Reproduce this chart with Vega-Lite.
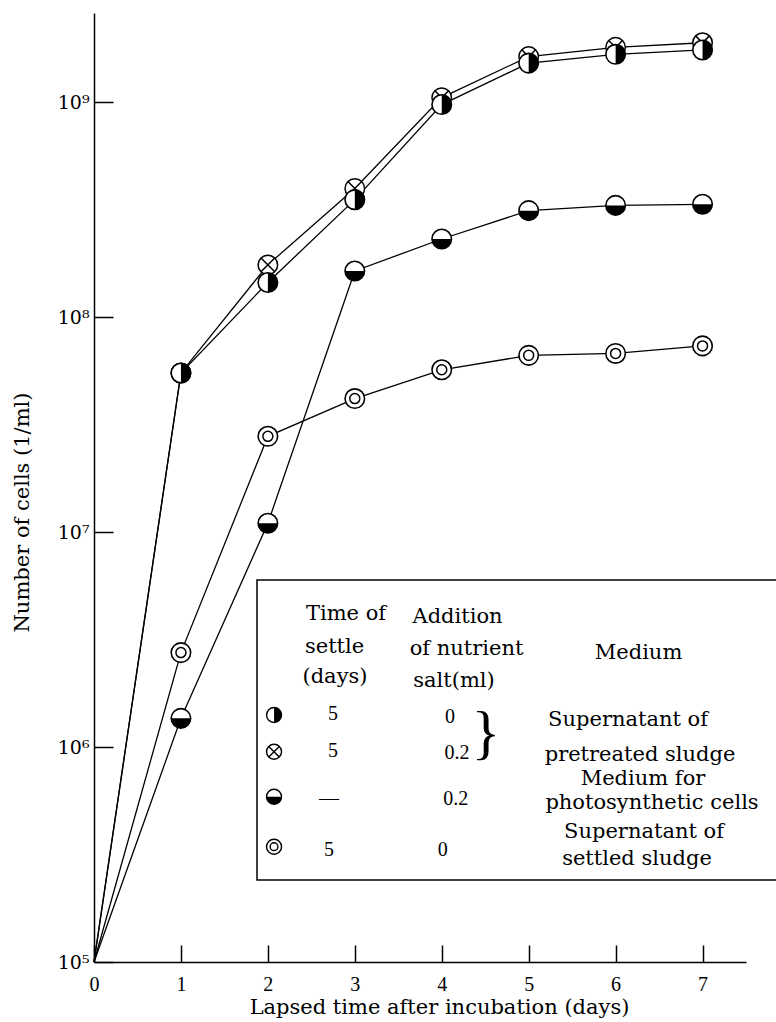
{
  "$schema": "https://vega.github.io/schema/vega-lite/v6.json",
  "width": 652,
  "height": 949,
  "autosize": {"type": "none"},
  "padding": {"left": 94, "top": 13, "right": 30, "bottom": 60},
  "background": "white",
  "config": {"view": {"stroke": null}, "font": "DejaVu Serif"},
  "datasets": {
    "pts": [
      {"series": "Settle 5 d, salt 0 ml (pretreated sludge)", "day": 0, "cells": 100000},
      {"series": "Settle 5 d, salt 0 ml (pretreated sludge)", "day": 1, "cells": 55000000},
      {"series": "Settle 5 d, salt 0 ml (pretreated sludge)", "day": 2, "cells": 145000000},
      {"series": "Settle 5 d, salt 0 ml (pretreated sludge)", "day": 3, "cells": 352000000},
      {"series": "Settle 5 d, salt 0 ml (pretreated sludge)", "day": 4, "cells": 975000000},
      {"series": "Settle 5 d, salt 0 ml (pretreated sludge)", "day": 5, "cells": 1520000000},
      {"series": "Settle 5 d, salt 0 ml (pretreated sludge)", "day": 6, "cells": 1670000000},
      {"series": "Settle 5 d, salt 0 ml (pretreated sludge)", "day": 7, "cells": 1750000000},
      {"series": "Settle 5 d, salt 0.2 ml (pretreated sludge)", "day": 0, "cells": 100000},
      {"series": "Settle 5 d, salt 0.2 ml (pretreated sludge)", "day": 1, "cells": 55000000},
      {"series": "Settle 5 d, salt 0.2 ml (pretreated sludge)", "day": 2, "cells": 175000000},
      {"series": "Settle 5 d, salt 0.2 ml (pretreated sludge)", "day": 3, "cells": 397000000},
      {"series": "Settle 5 d, salt 0.2 ml (pretreated sludge)", "day": 4, "cells": 1050000000},
      {"series": "Settle 5 d, salt 0.2 ml (pretreated sludge)", "day": 5, "cells": 1630000000},
      {"series": "Settle 5 d, salt 0.2 ml (pretreated sludge)", "day": 6, "cells": 1800000000},
      {"series": "Settle 5 d, salt 0.2 ml (pretreated sludge)", "day": 7, "cells": 1890000000},
      {"series": "Salt 0.2 ml (photosynthetic medium)", "day": 0, "cells": 100000},
      {"series": "Salt 0.2 ml (photosynthetic medium)", "day": 1, "cells": 1360000},
      {"series": "Salt 0.2 ml (photosynthetic medium)", "day": 2, "cells": 11000000},
      {"series": "Salt 0.2 ml (photosynthetic medium)", "day": 3, "cells": 164000000},
      {"series": "Salt 0.2 ml (photosynthetic medium)", "day": 4, "cells": 231000000},
      {"series": "Salt 0.2 ml (photosynthetic medium)", "day": 5, "cells": 313000000},
      {"series": "Salt 0.2 ml (photosynthetic medium)", "day": 6, "cells": 331000000},
      {"series": "Salt 0.2 ml (photosynthetic medium)", "day": 7, "cells": 335000000},
      {"series": "Settle 5 d, salt 0 ml (settled sludge)", "day": 0, "cells": 100000},
      {"series": "Settle 5 d, salt 0 ml (settled sludge)", "day": 1, "cells": 2750000},
      {"series": "Settle 5 d, salt 0 ml (settled sludge)", "day": 2, "cells": 27900000},
      {"series": "Settle 5 d, salt 0 ml (settled sludge)", "day": 3, "cells": 41800000},
      {"series": "Settle 5 d, salt 0 ml (settled sludge)", "day": 4, "cells": 56900000},
      {"series": "Settle 5 d, salt 0 ml (settled sludge)", "day": 5, "cells": 66400000},
      {"series": "Settle 5 d, salt 0 ml (settled sludge)", "day": 6, "cells": 67800000},
      {"series": "Settle 5 d, salt 0 ml (settled sludge)", "day": 7, "cells": 73500000}
    ],
    "legsym": [
      {"series": "Settle 5 d, salt 0 ml (pretreated sludge)", "day": 2.071, "cells": 1410000},
      {"series": "Settle 5 d, salt 0.2 ml (pretreated sludge)", "day": 2.071, "cells": 951000},
      {"series": "Salt 0.2 ml (photosynthetic medium)", "day": 2.071, "cells": 587500},
      {"series": "Settle 5 d, salt 0 ml (settled sludge)", "day": 2.071, "cells": 343900}
    ],
    "box": [{"day": 1.875, "day2": 8.5, "cells": 5990000, "cells2": 240700}],
    "legtext": [
      {"text": "Time of", "day": 2.899, "cells": 3900000},
      {"text": "settle", "day": 2.767, "cells": 2748000},
      {"text": "(days)", "day": 2.772, "cells": 1986000},
      {"text": "Addition", "day": 4.182, "cells": 3789000},
      {"text": "of nutrient", "day": 4.285, "cells": 2681000},
      {"text": "salt(ml)", "day": 4.141, "cells": 1903000},
      {"text": "Medium", "day": 6.264, "cells": 2568000},
      {"text": "Supernatant of", "day": 6.143, "cells": 1253000},
      {"text": "pretreated sludge", "day": 6.281, "cells": 864000},
      {"text": "Medium for", "day": 6.315, "cells": 666000},
      {"text": "photosynthetic cells", "day": 6.419, "cells": 515000},
      {"text": "Supernatant of", "day": 6.327, "cells": 378700},
      {"text": "settled sludge", "day": 6.246, "cells": 282700}
    ],
    "legnum": [
      {"text": "5", "day": 2.749, "cells": 1336000},
      {"text": "0", "day": 4.095, "cells": 1294000},
      {"text": "5", "day": 2.749, "cells": 902000},
      {"text": "0.2", "day": 4.176, "cells": 880000},
      {"text": "—", "day": 2.703, "cells": 537500},
      {"text": "0.2", "day": 4.161, "cells": 537500},
      {"text": "5", "day": 2.703, "cells": 311200},
      {"text": "0", "day": 4.011, "cells": 311200}
    ],
    "brace": [{"text": "}", "day": 4.509, "cells": 1150000}]
  },
  "encoding": {
    "x": {
      "field": "day", "type": "quantitative",
      "scale": {"domain": [0, 7.5], "nice": false, "zero": false},
      "axis": {
        "values": [0, 1, 2, 3, 4, 5, 6, 7],
        "format": "d",
        "title": "Lapsed time after incubation (days)",
        "grid": false,
        "domainColor": "black", "domainWidth": 1.5,
        "tickColor": "black", "tickWidth": 1.5, "tickSize": -17,
        "labelFont": "Liberation Serif", "labelFontSize": 20, "labelColor": "black",
        "labelPadding": 29, "labelFlush": false, "labelOverlap": false,
        "titleFont": "DejaVu Serif", "titleFontSize": 21, "titleFontWeight": "normal", "titleColor": "black",
        "titleX": 345, "titleY": 45, "titleAlign": "center", "titleBaseline": "middle"
      }
    },
    "y": {
      "field": "cells", "type": "quantitative",
      "scale": {"type": "log", "domain": [100000, 2600000000], "nice": false},
      "axis": {
        "values": [100000, 1000000, 10000000, 100000000, 1000000000],
        "labelExpr": "'10' + ['⁰','¹','²','³','⁴','⁵','⁶','⁷','⁸','⁹'][round(log(datum.value)/LN10)]",
        "title": "Number of cells (1/ml)",
        "grid": false,
        "domainColor": "black", "domainWidth": 1.5,
        "tickColor": "black", "tickWidth": 1.5, "tickSize": -19,
        "labelFont": "DejaVu Serif", "labelFontSize": 19, "labelColor": "black",
        "labelPadding": 24, "labelFlush": false, "labelOverlap": false, "labelBaseline": "middle",
        "titleFont": "DejaVu Serif", "titleFontSize": 21, "titleFontWeight": "normal", "titleColor": "black",
        "titleX": -72, "titleY": 499, "titleAngle": -90, "titleAlign": "center", "titleBaseline": "middle"
      }
    }
  },
  "layer": [
    {
      "data": {"name": "pts"},
      "mark": {"type": "line", "color": "black", "strokeWidth": 1.3},
      "encoding": {"detail": {"field": "series", "type": "nominal"}}
    },
    {
      "data": {"name": "pts"},
      "transform": [{"filter": "datum.day > 0 && datum.series == 'Settle 5 d, salt 0.2 ml (pretreated sludge)'"}],
      "mark": {"type": "point", "shape": "circle", "filled": true, "fill": "white", "stroke": "black", "strokeWidth": 1.5, "size": 380, "opacity": 1}
    },
    {
      "data": {"name": "pts"},
      "transform": [{"filter": "datum.day > 0 && datum.series == 'Settle 5 d, salt 0.2 ml (pretreated sludge)'"}],
      "mark": {"type": "point", "shape": "M-0.7071,-0.7071L0.7071,0.7071M-0.7071,0.7071L0.7071,-0.7071", "filled": false, "stroke": "black", "strokeWidth": 1.5, "size": 380, "opacity": 1}
    },
    {
      "data": {"name": "pts"},
      "transform": [{"filter": "datum.day > 0 && datum.series != 'Settle 5 d, salt 0.2 ml (pretreated sludge)'"}],
      "mark": {"type": "point", "shape": "circle", "filled": true, "fill": "white", "stroke": "black", "strokeWidth": 1.6, "size": 380, "opacity": 1}
    },
    {
      "data": {"name": "pts"},
      "transform": [{"filter": "datum.day > 0 && datum.series == 'Settle 5 d, salt 0 ml (pretreated sludge)'"}],
      "mark": {"type": "point", "shape": "M0,-1A1,1 0 0,1 0,1Z", "filled": true, "fill": "black", "strokeWidth": 0, "size": 380, "opacity": 1}
    },
    {
      "data": {"name": "pts"},
      "transform": [{"filter": "datum.day > 0 && datum.series == 'Salt 0.2 ml (photosynthetic medium)'"}],
      "mark": {"type": "point", "shape": "M-1,0A1,1 0 0,0 1,0Z", "filled": true, "fill": "black", "strokeWidth": 0, "size": 380, "opacity": 1}
    },
    {
      "data": {"name": "pts"},
      "transform": [{"filter": "datum.day > 0 && datum.series == 'Settle 5 d, salt 0 ml (settled sludge)'"}],
      "mark": {"type": "point", "shape": "circle", "filled": false, "stroke": "black", "strokeWidth": 1.5, "size": 100, "opacity": 1}
    },
    {
      "data": {"name": "box"},
      "mark": {"type": "rect", "filled": false, "fill": null, "stroke": "black", "strokeWidth": 1.5},
      "encoding": {"x2": {"field": "day2"}, "y2": {"field": "cells2"}}
    },
    {
      "data": {"name": "legsym"},
      "mark": {"type": "point", "shape": "circle", "filled": true, "fill": "white", "stroke": "black", "strokeWidth": 1.4, "size": 225, "opacity": 1}
    },
    {
      "data": {"name": "legsym"},
      "transform": [{"filter": "datum.series == 'Settle 5 d, salt 0.2 ml (pretreated sludge)'"}],
      "mark": {"type": "point", "shape": "M-0.7071,-0.7071L0.7071,0.7071M-0.7071,0.7071L0.7071,-0.7071", "filled": false, "stroke": "black", "strokeWidth": 1.4, "size": 225, "opacity": 1}
    },
    {
      "data": {"name": "legsym"},
      "transform": [{"filter": "datum.series == 'Settle 5 d, salt 0 ml (pretreated sludge)'"}],
      "mark": {"type": "point", "shape": "M0,-1A1,1 0 0,1 0,1Z", "filled": true, "fill": "black", "strokeWidth": 0, "size": 225, "opacity": 1}
    },
    {
      "data": {"name": "legsym"},
      "transform": [{"filter": "datum.series == 'Salt 0.2 ml (photosynthetic medium)'"}],
      "mark": {"type": "point", "shape": "M-1,0A1,1 0 0,0 1,0Z", "filled": true, "fill": "black", "strokeWidth": 0, "size": 225, "opacity": 1}
    },
    {
      "data": {"name": "legsym"},
      "transform": [{"filter": "datum.series == 'Settle 5 d, salt 0 ml (settled sludge)'"}],
      "mark": {"type": "point", "shape": "circle", "filled": false, "stroke": "black", "strokeWidth": 1.4, "size": 60, "opacity": 1}
    },
    {
      "data": {"name": "legtext"},
      "mark": {"type": "text", "font": "DejaVu Serif", "fontSize": 21, "color": "black", "align": "center", "baseline": "alphabetic"},
      "encoding": {"text": {"field": "text", "type": "nominal"}}
    },
    {
      "data": {"name": "legnum"},
      "mark": {"type": "text", "font": "Liberation Serif", "fontSize": 20, "color": "black", "align": "center", "baseline": "alphabetic"},
      "encoding": {"text": {"field": "text", "type": "nominal"}}
    },
    {
      "data": {"name": "brace"},
      "mark": {"type": "text", "font": "Liberation Serif", "fontSize": 60, "color": "black", "align": "center", "baseline": "middle"},
      "encoding": {"text": {"field": "text", "type": "nominal"}}
    }
  ]
}
